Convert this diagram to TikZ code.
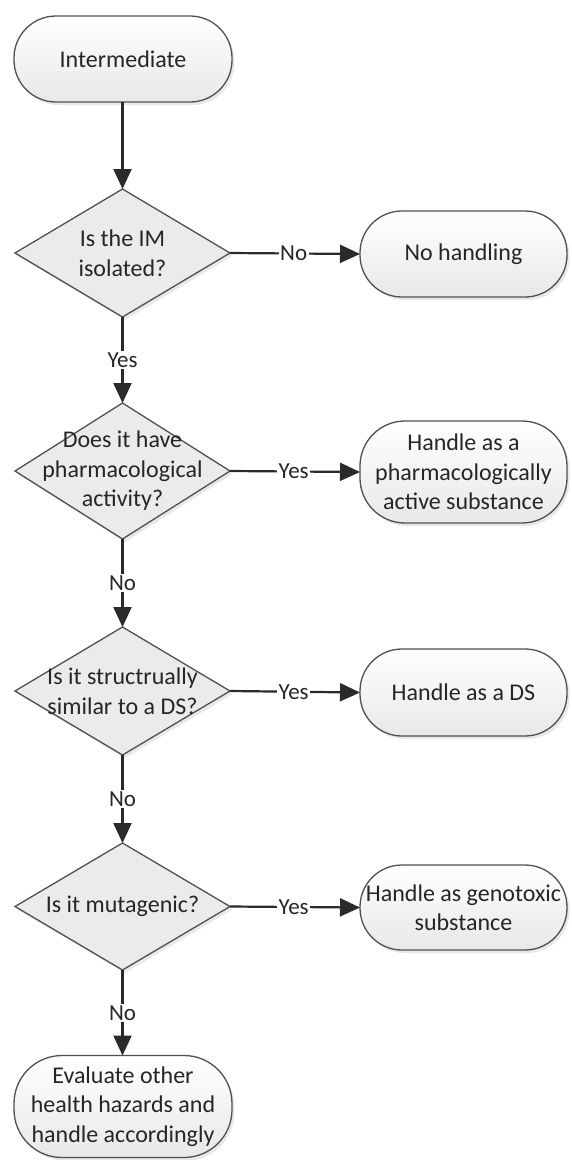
\documentclass[tikz,border=0pt]{standalone}
\usepackage{fontspec}
\setmainfont{Carlito}
\usetikzlibrary{shapes.geometric,arrows.meta,shadows}
\definecolor{bordergray}{HTML}{505050}
\definecolor{linegray}{HTML}{2A2A2A}
\definecolor{textgray}{HTML}{262626}
\tikzset{
  base/.style={draw=bordergray, line width=1.3pt, inner sep=0pt, outer sep=0pt,
    drop shadow={opacity=0.18, shadow xshift=2.5pt, shadow yshift=-3pt}},
  term/.style={base, rectangle, rounded corners=42pt, minimum width=207pt,
    top color=white, bottom color=black!9, text=textgray, align=center,
    font=\fontsize{24}{29.5}\selectfont},
  dia/.style={base, diamond, minimum width=215pt, fill=black!8},
  diatext/.style={text=textgray, align=center, font=\fontsize{24}{29.5}\selectfont},
  conn/.style={draw=linegray, line width=2.2pt, -{Triangle[length=20pt,width=18pt]}},
  lbl/.style={fill=white, text=textgray, inner sep=1.5pt, font=\fontsize{23}{28}\selectfont},
}
\begin{document}
\begin{tikzpicture}[x=1pt,y=-1pt]
\path[use as bounding box] (0,0) rectangle (571,1160);

% terminal nodes
\node[term, minimum width=218pt, minimum height=86pt] (start) at (123,59) {Intermediate};
\node[term, minimum height=86pt] (r1) at (463.5,254) {No handling};
\node[term, minimum height=102pt, rounded corners=45pt] (r2) at (463.5,472) {Handle as a\\pharmacologically\\active substance};
\node[term, minimum height=87pt] (r3) at (463.5,692.5) {Handle as a DS};
\node[term, minimum height=85pt] (r4) at (463.5,907.5) {Handle as genotoxic\\substance};
\node[term, minimum width=218pt, minimum height=102pt, rounded corners=48pt] (final) at (123,1106.5) {Evaluate other\\health hazards and\\handle accordingly};

% decision nodes
\node[dia, minimum height=128pt] (d1) at (122.5,253) {};
\node[diatext] (t1) at (d1) {Is the IM\\isolated?};
\node[dia, minimum height=136pt] (d2) at (122.5,471) {};
\node[diatext] (t2) at (d2) {Does it have\\pharmacological\\activity?};
\node[dia, minimum height=128pt] (d3) at (122.5,691) {};
\node[diatext] (t3) at (d3) {Is it structrually\\similar to a DS?};
\node[dia, minimum height=127pt] (d4) at (122.5,906.5) {};
\node[diatext] (t4) at (d4) {Is it mutagenic?};

% connectors
\draw[conn] (start.south -| d1.north) -- (d1.north);
\draw[conn] (d1.east) -- node[lbl, pos=0.49] {No} (r1.west);
\draw[conn] (d1.south) -- node[lbl, pos=0.5] {Yes} (d2.north);
\draw[conn] (d2.east) -- node[lbl, pos=0.49] {Yes} (r2.west);
\draw[conn] (d2.south) -- node[lbl, pos=0.5] {No} (d3.north);
\draw[conn] (d3.east) -- node[lbl, pos=0.49] {Yes} (r3.west);
\draw[conn] (d3.south) -- node[lbl, pos=0.5] {No} (d4.north);
\draw[conn] (d4.east) -- node[lbl, pos=0.49] {Yes} (r4.west);
\draw[conn] (d4.south) -- node[lbl, pos=0.5] {No} (final.north -| d4.south);
\end{tikzpicture}
\end{document}
